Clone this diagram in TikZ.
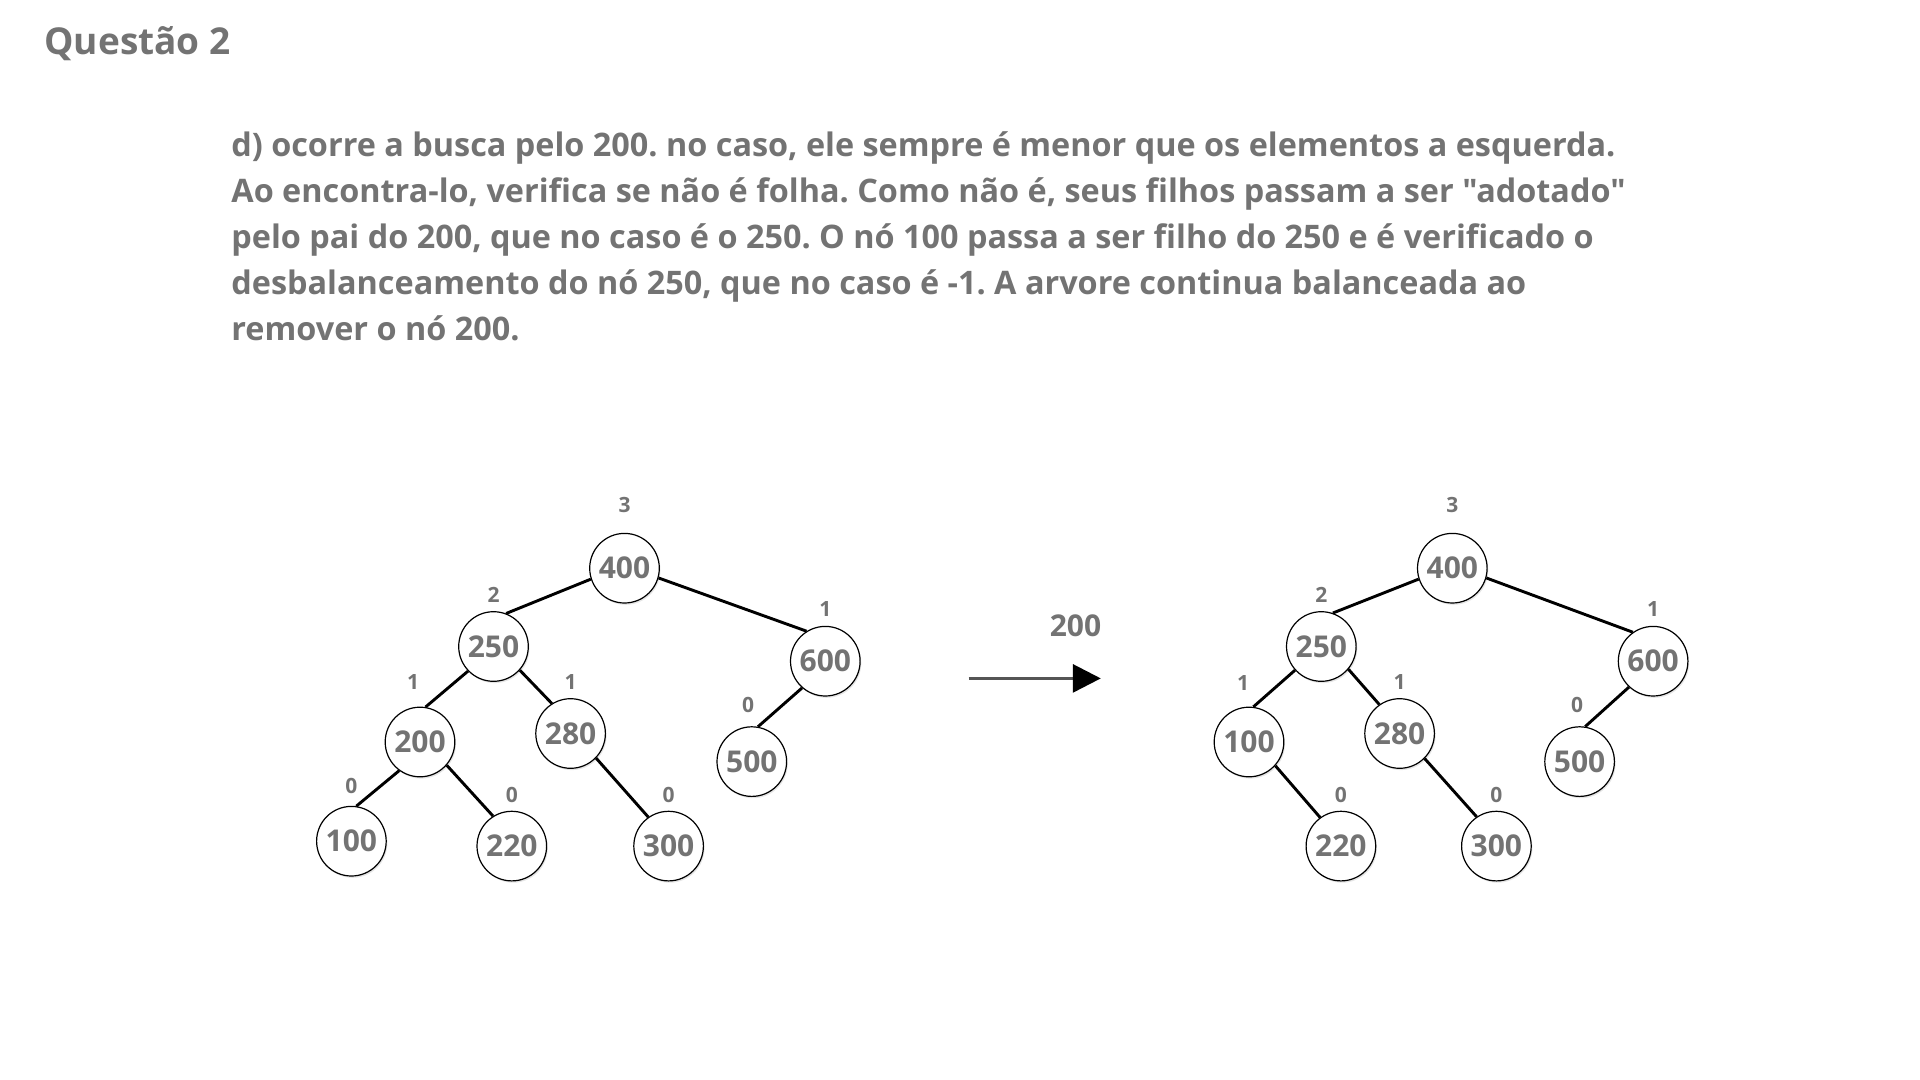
\documentclass[tikz,border=0pt]{standalone}
\usepackage{fontspec}
\setmainfont{Open Sans}[Ligatures=TeXOff]
\usepackage{xcolor}
\usepackage{tikz}
\usetikzlibrary{positioning, arrows.meta, shadows}
\definecolor{textgray}{RGB}{115,115,115}
\definecolor{arrowgray}{RGB}{85,85,85}
\frenchspacing

\begin{document}
\begin{tikzpicture}[
    x=0.5pt, y=0.5pt,
    font=\bfseries,
    treenode/.style={
        circle,
        draw=black,
        line width=0.6pt,
        fill=white,
        minimum size=34.8pt,
        inner sep=0pt,
        text=textgray,
        font=\fontsize{15}{18}\selectfont\bfseries,
        drop shadow={shadow xshift=0.6pt, shadow yshift=-0.9pt, opacity=0.2}
    },
    heightlabel/.style={
        inner sep=0pt,
        text=textgray,
        font=\fontsize{10.5}{12}\selectfont\bfseries
    },
    treeedge/.style={line width=1.45pt, draw=black},
    arrow/.style={-{Triangle[length=14pt, width=14pt, color=black]}, line width=1.5pt, color=arrowgray}
]

%% PAGE %%
\useasboundingbox[fill=white] (0,0) rectangle (1920,-1080);

% Title
\node (title) [anchor=base west, inner sep=0pt, text=textgray, font=\fontsize{18.5}{22}\selectfont\bfseries] at (44,-55) {Questão 2};

% Answer text (anchored at the baseline of its last line)
\node (answer_d) [anchor=base west, align=left, inner sep=0pt, text=textgray,
    font=\fontsize{16.2}{22.96}\selectfont\bfseries] at (231,-340.6) {
    d) ocorre a busca pelo 200. no caso, ele sempre é menor que os elementos a esquerda.\\
    Ao encontra-lo, verifica se não é folha. Como não é, seus filhos passam a ser "adotado"\\
    pelo pai do 200, que no caso é o 250. O nó 100 passa a ser filho do 250 e é verificado o\\
    desbalanceamento do nó 250, que no caso é -1. A arvore continua balanceada ao\\
    remover o nó 200.
};

%% LEFT TREE - before removing 200 %%
\node (before_400) [treenode] at (624.5,-568.2) {400};
\node (before_250) [treenode] at (493.5,-646.5) {250};
\node (before_600) [treenode] at (825.3,-661.2) {600};
\node (before_200) [treenode] at (420,-742) {200};
\node (before_280) [treenode] at (570.6,-733.5) {280};
\node (before_500) [treenode] at (751.8,-761.6) {500};
\node (before_100) [treenode] at (351.4,-841.2) {100};
\node (before_220) [treenode] at (511.8,-846.1) {220};
\node (before_300) [treenode] at (668.6,-846.1) {300};

% heights
\node (before_400_h) [heightlabel, above=10pt of before_400] {3};
\node (before_250_h) [heightlabel, above=4pt of before_250] {2};
\node (before_600_h) [heightlabel, above=4.3pt of before_600] {1};
\node (before_200_h) [heightlabel, above=8.3pt of before_200, xshift=-3.5pt] {1};
\node (before_280_h) [heightlabel, above=4pt of before_280] {1};
\node (before_500_h) [heightlabel, above=6.8pt of before_500, xshift=-1.8pt] {0};
\node (before_100_h) [heightlabel, above=5.8pt of before_100] {0};
\node (before_220_h) [heightlabel, above=4pt of before_220] {0};
\node (before_300_h) [heightlabel, above=4pt of before_300] {0};

\draw [treeedge] (before_400.198) -- (before_250.69);
\draw [treeedge] (before_400.344) -- (before_600.122);
\draw [treeedge] (before_250.224) -- (before_200.81);
\draw [treeedge] (before_250.318) -- (before_280.122);
\draw [treeedge] (before_200.234) -- (before_100.82);
\draw [treeedge] (before_200.319) -- (before_220.122);
\draw [treeedge] (before_280.316) -- (before_300.125);
\draw [treeedge] (before_600.229) -- (before_500.80);

%% ARROW %%
\coordinate (arrow_start) at (968.6,-678.4);
\coordinate (arrow_end) at (1100.8,-678.4);
\node (removed) [text=textgray, inner sep=0pt, font=\fontsize{15}{18}\selectfont\bfseries] at (1075.5,-625.7) {200};
\draw [arrow] (arrow_start) -- (arrow_end);

%% RIGHT TREE - after removing 200 %%
\node (after_400) [treenode] at (1452.3,-568.2) {400};
\node (after_250) [treenode] at (1321.3,-646.5) {250};
\node (after_600) [treenode] at (1653.1,-661.2) {600};
\node (after_100) [treenode] at (1249,-742) {100};
\node (after_280) [treenode] at (1399.6,-733.5) {280};
\node (after_500) [treenode] at (1579.6,-761.6) {500};
\node (after_220) [treenode] at (1340.9,-846.1) {220};
\node (after_300) [treenode] at (1496.4,-846.1) {300};

% heights
\node (after_400_h) [heightlabel, above=10pt of after_400] {3};
\node (after_250_h) [heightlabel, above=4pt of after_250] {2};
\node (after_600_h) [heightlabel, above=4.5pt of after_600] {1};
\node (after_100_h) [heightlabel, above=8pt of after_100, xshift=-3pt] {1};
\node (after_280_h) [heightlabel, above=4pt of after_280] {1};
\node (after_500_h) [heightlabel, above=6.8pt of after_500, xshift=-1.3pt] {0};
\node (after_220_h) [heightlabel, above=4pt of after_220] {0};
\node (after_300_h) [heightlabel, above=4pt of after_300] {0};

\draw [treeedge] (after_400.198) -- (after_250.71);
\draw [treeedge] (after_400.344) -- (after_600.125);
\draw [treeedge] (after_250.222) -- (after_100.83);
\draw [treeedge] (after_250.320) -- (after_280.125);
\draw [treeedge] (after_100.318) -- (after_220.126);
\draw [treeedge] (after_280.315) -- (after_300.124);
\draw [treeedge] (after_600.227) -- (after_500.81);

\end{tikzpicture}
\end{document}
